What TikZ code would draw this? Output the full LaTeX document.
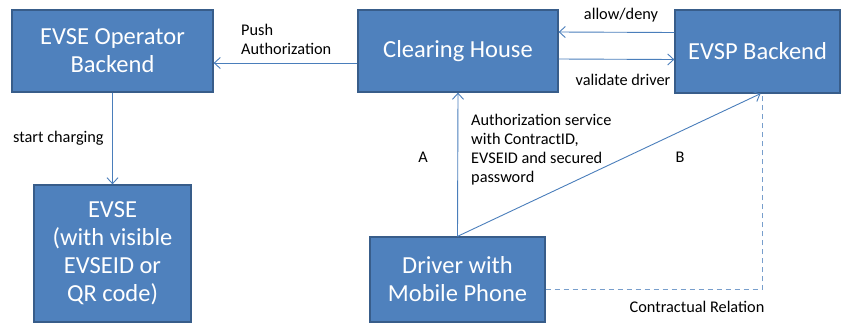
\documentclass[tikz,border=0pt]{standalone}
\usepackage{fontspec}
\setmainfont{Carlito}
\usepackage{tikz}
\usetikzlibrary{arrows,arrows.meta}
\definecolor{boxfill}{HTML}{4F81BD}
\definecolor{boxline}{HTML}{385D8A}
\definecolor{flowline}{HTML}{4A7EBB}

\begin{document}
\begin{tikzpicture}[x=1pt,y=-1pt,
    box/.style={draw=boxline,line width=1.3pt,fill=boxfill,text=white,
      align=center,inner sep=0pt,font=\fontsize{24.5}{28}\selectfont},
    flow/.style={draw=flowline,line width=0.9pt,-{Straight Barb[length=6pt,width=11pt]}},
    lbl/.style={inner sep=0pt,font=\fontsize{16.3}{19}\selectfont}]
		\useasboundingbox (0,0) rectangle (843,325);
		% boxes
		\node[box,minimum width=201pt,minimum height=82pt] (evseop) at (112.5,51) {EVSE Operator\\Backend};
		\node[box,minimum width=200pt,minimum height=82pt] (clr) at (458,51) {Clearing House};
		\node[box,minimum width=165pt,minimum height=83pt] (evsp) at (757.5,51.5) {EVSP Backend};
		\node[box,minimum width=157pt,minimum height=137pt] (evse) at (112.5,253.5)
				{EVSE\\(with visible\\EVSEID or\\QR code)};
		\node[box,minimum width=175pt,minimum height=85pt] (drv) at (457.5,279.5) {Driver with\\Mobile Phone};
		% connectors
		\draw[flow] ([yshift=-12pt]clr.west) -- ([yshift=-12pt]evseop.east);
		\draw[flow] ([yshift=19pt]evsp.west) -- ([yshift=19pt]clr.east);
		\draw[flow] ([yshift=-8pt]clr.east) -- ([yshift=-8pt]evsp.west);
		\draw[flow] (evseop.south) -- (evse.north);
		\draw[flow] (drv.north) -- (clr.south);
		\draw[flow] (drv.north) -- ([xshift=3pt]evsp.south);
		\draw[draw=flowline!75,line width=0.9pt,dash pattern=on 5pt off 4pt]
				([yshift=-10pt]drv.east) -| ([xshift=5pt]evsp.south);
		% labels
		\node[lbl,anchor=north west,align=left] (push) at (241,24) {Push\\Authorization};
		\node[lbl] (allow) at (621,15) {allow/deny};
		\node[lbl] (valid) at (623,80) {validate driver};
		\node[lbl,anchor=west] (start) at (13,138) {start charging};
		\node[lbl,anchor=north west,align=left] (auth) at (471,114)
				{Authorization service\\with ContractID,\\EVSEID and secured\\password};
		\node[lbl] (pa) at (423,157) {A};
		\node[lbl] (pb) at (680,157) {B};
		\node[lbl] (contract) at (697,307) {Contractual Relation};
	\end{tikzpicture}
\end{document}
